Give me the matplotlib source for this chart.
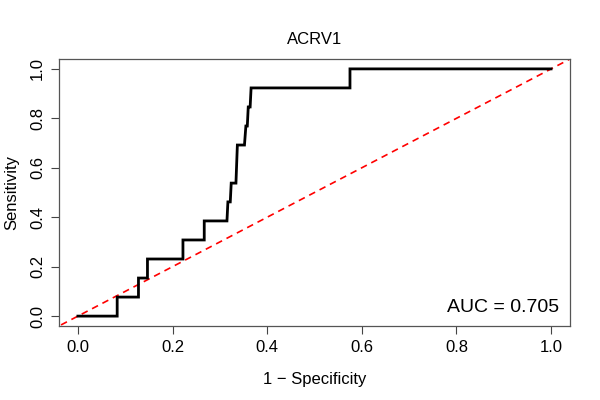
import numpy as np
import matplotlib
matplotlib.use("Agg")
import matplotlib.pyplot as plt

plt.rcParams['font.family'] = ['Liberation Sans', 'DejaVu Sans']

# ROC steps (1 - specificity, sensitivity)
fpr = [0.0, 0.083, 0.083, 0.128, 0.128, 0.147, 0.147, 0.222, 0.222, 0.267, 0.267,
       0.315, 0.317, 0.322, 0.324, 0.334, 0.337, 0.352, 0.355, 0.358, 0.360,
       0.364, 0.366, 0.575, 0.575, 1.0]
tpr = [0.0, 0.0, 0.077, 0.077, 0.154, 0.154, 0.231, 0.231, 0.308, 0.308, 0.385,
       0.385, 0.462, 0.462, 0.538, 0.538, 0.692, 0.692, 0.769, 0.769, 0.846,
       0.846, 0.923, 0.923, 1.0, 1.0]
auc_value = 0.705
title = "ACRV1"

fig = plt.figure(figsize=(6, 4), dpi=100)
ax = fig.add_axes([0.0983, 0.185, 0.8517, 0.6675])

ax.plot([-1, 2], [-1, 2], color='red', linestyle=(0, (4, 3)), linewidth=1.2)
ax.plot(fpr, tpr, color='black', linewidth=2.0, solid_joinstyle='miter')

ax.set_xlim(-0.04, 1.04)
ax.set_ylim(-0.04, 1.04)
ticks = [0.0, 0.2, 0.4, 0.6, 0.8, 1.0]
ax.set_xticks(ticks)
ax.set_yticks(ticks)
ax.set_xticklabels([f"{t:.1f}" for t in ticks], fontsize=12)
ax.set_yticklabels([f"{t:.1f}" for t in ticks], fontsize=12, rotation=90, va='center')
ax.tick_params(length=6, width=0.8, color='#444444', pad=4)
for s in ax.spines.values():
    s.set_color('#555555')
    s.set_linewidth(0.9)

ax.set_xlabel("1 \u2212 Specificity", fontsize=12, labelpad=12)
ax.set_ylabel("Sensitivity", fontsize=12, labelpad=8)
ax.set_title(title, fontsize=12, pad=11)
ax.text(0.979, 0.051, f"AUC = {auc_value}", fontsize=14, ha='right', va='baseline',
        transform=ax.transAxes)

fig.savefig("out.png", dpi=100)
